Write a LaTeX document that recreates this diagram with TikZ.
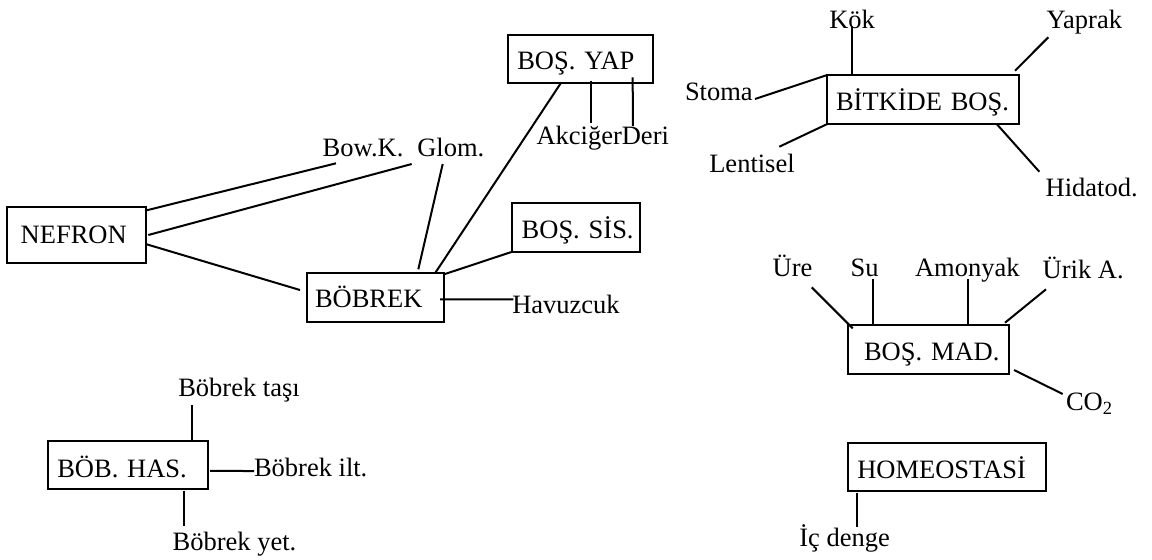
\documentclass[tikz,border=0pt]{standalone}
\usepackage{fontspec}
\setmainfont{Liberation Serif}
\usetikzlibrary{calc}

% framed concept box: #1 left padding, #2 width, #3 height above baseline, #4 depth below baseline
\tikzset{
  box/.style n args={4}{draw, line width=1pt, anchor=base west, outer sep=0pt,
    inner xsep=0pt, inner ysep=0pt, text width=#2, align=left,
    text height=#3, text depth=#4, execute at begin node={\hspace*{#1}}},
  lbl/.style={anchor=base west, inner sep=0pt, outer sep=0pt},
  link/.style={line width=1pt},
}

\begin{document}
\begin{tikzpicture}[x=0.5pt, y=-0.5pt, font=\fontsize{13.25}{15}\selectfont]
\useasboundingbox (0,0) rectangle (1152,559);

% ---- kidney cluster ----
\node[box={6.7pt}{69.2pt}{18pt}{9.7pt}]    (nefron) at (7.3,243.3)   {NEFRON};
\node[box={4.15pt}{68.65pt}{17pt}{7.2pt}]  (bobrek) at (306.7,307.3) {BÖBREK};
\node[box={4.5pt}{72.2pt}{17.15pt}{6.7pt}] (yap)    at (508.3,69.3)  {BOŞ. YAP};
\node[box={4.7pt}{63.85pt}{17.5pt}{6.7pt}] (sis)    at (512.3,238.3) {BOŞ. SİS.};

\node[lbl] (bowk)    at (322.7,156)   {Bow.K.};
\node[lbl] (glom)    at (417.3,156)   {Glom.};
\node[lbl] (akciger) at (536.5,144.5) {Akciğer};
\node[lbl] (deri)    at (akciger.base east) {Deri};
\node[lbl] (havuz)   at (512.3,313.3) {Havuzcuk};

\draw[link] ($(nefron.north east)+(-0.7,3.4)$) -- ($(bowk.base west)+(13.3,7.3)$);
\draw[link] ($(nefron.east)+(2.6,0)$) -- ($(glom.base west)+(-5.6,8)$);
\draw[link] ($(nefron.east)+(1,9.3)$) -- ($(bobrek.west)+(-6.7,-7.5)$);
\draw[link] ($(glom.base west)+(25.4,8)$) -- ($(bobrek.north west)+(111.6,-4)$);
\draw[link] ($(yap.south west)+(52.4,0.6)$) -- ($(bobrek.north west)+(128.3,0)$);
\draw[link] ($(bobrek.north east)+(1,0.7)$) -- (sis.south west);
\draw[link] ($(bobrek.east)+(-4,1.8)$) -- ($(havuz.base west)+(1,-14)$);
\draw[link] ($(yap.south west)+(82.4,-2)$) -- ($(akciger.base west)+(54.2,-21.8)$);
\draw[link] ($(yap.south west)+(124.4,-5.4)$) -- ($(deri.base west)+(11,-18.5)$);

% ---- excretion in plants ----
\node[box={4.35pt}{96pt}{17.85pt}{6.65pt}] (bitki) at (827.3,110.7) {BİTKİDE BOŞ.};
\node[lbl] (kok)      at (829.3,28.3)  {Kök};
\node[lbl] (yaprak)   at (1046.7,28.3) {Yaprak};
\node[lbl] (stoma)    at (685,100)     {Stoma};
\node[lbl] (lentisel) at (709.3,172.7) {Lentisel};
\node[lbl] (hidatod)  at (1045.7,196.7){Hidatod.};

\draw[link] ($(kok.base west)+(22.4,-2.3)$) -- ($(bitki.north west)+(24.4,0)$);
\draw[link] ($(yaprak.base west)+(1.6,9)$) -- ($(bitki.north east)+(-4.3,-4.3)$);
\draw[link] ($(stoma.base west)+(70,-1)$) -- (bitki.north west);
\draw[link] ($(lentisel.base west)+(70,-26)$) -- (bitki.south west);
\draw[link] ($(bitki.south west)+(169.4,0)$) -- ($(hidatod.base west)+(-6.4,-25)$);

% ---- waste substances ----
\node[box={7.85pt}{80.5pt}{17.85pt}{6.65pt}] (mad) at (848.3,360.7) {BOŞ. MAD.};
\node[lbl] (ure)     at (772.7,276)  {Üre};
\node[lbl] (su)      at (850.7,276)  {Su};
\node[lbl] (amonyak) at (915,276)    {Amonyak};
\node[lbl] (urik)    at (1042.7,278) {Ürik A.};
\node[lbl] (co)      at (1066,410)   {CO\textsubscript{2}};

\draw[link] ($(ure.base west)+(39,11.3)$) -- ($(mad.north west)+(4.4,3.3)$);
\draw[link] ($(su.base west)+(22,3.3)$) -- ($(mad.north west)+(24.4,0)$);
\draw[link] ($(amonyak.base west)+(53.3,3.3)$) -- ($(mad.north west)+(120,0)$);
\draw[link] ($(urik.base west)+(3.3,11.3)$) -- ($(mad.north east)+(-4.3,-2.3)$);
\draw[link] ($(mad.south east)+(4.7,-4)$) -- ($(co.base west)+(-3.3,-16)$);

% ---- homeostasis ----
\node[box={4.5pt}{98.85pt}{17.8pt}{6.2pt}] (homeo) at (848.3,478.3) {HOMEOSTASİ};
\node[lbl] (icdenge) at (799.3,546) {İç denge};
\draw[link] ($(homeo.south west)+(8.4,2.6)$) -- ($(icdenge.base west)+(57.4,-18.7)$);

% ---- kidney diseases ----
\node[box={4.5pt}{80pt}{18.15pt}{6pt}] (has) at (48.3,477.3) {BÖB. HAS.};
\node[lbl] (tasi) at (178.3,396.7) {Böbrek taşı};
\node[lbl] (ilt)  at (254,476.7)   {Böbrek ilt.};
\node[lbl] (yet)  at (172.7,550)   {Böbrek yet.};

\draw[link] ($(tasi.base west)+(14,8.3)$) -- ($(has.north west)+(144,0)$);
\draw[link] ($(has.east)+(1.7,5.8)$) -- ($(ilt.base west)+(0,-5.7)$);
\draw[link] ($(has.south west)+(135.7,1.4)$) -- ($(yet.base west)+(11.3,-24.3)$);
\end{tikzpicture}
\end{document}
